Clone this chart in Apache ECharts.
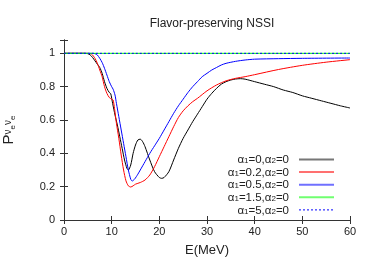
<!DOCTYPE html>
<html><head><meta charset="utf-8">
<script src="https://cdn.jsdelivr.net/npm/echarts@6/dist/echarts.min.js"></script>
<style>html,body{margin:0;padding:0;background:#fff}#c{width:374px;height:262px}</style>
</head><body><div id="c"></div>
<script>
const titleText = 'Flavor-preserving NSSI';
const xName = 'E(MeV)';
const xTicks = [0, 10, 20, 30, 40, 50, 60];
const yTicks = [0, 0.2, 0.4, 0.6, 0.8, 1];
const legendLabels = [['0','0'], ['0.2','0'], ['0.5','0'], ['1.5','0'], ['5','0']];
const seriesNames = ['a1=0', 'a1=0.2', 'a1=0.5', 'a1=1.5', 'a1=5'];

const blackX = [0,4,5,5.5,6,6.5,7,7.5,8,8.5,9,9.5,9.8,10.2,10.7,11.2,11.7,12.2,12.7,13.2,13.5,14,14.5,15,15.5,16,16.5,17,18,19,20,20.5,21,22,23,24,25,26,27,28,29,30,31,32,33,34,35,36,37,38,40,42,44,46,48,50,52,54,56,58,60];
const blackY = [1,1,0.998,0.99,0.975,0.955,0.935,0.915,0.88,0.83,0.79,0.765,0.758,0.70,0.63,0.57,0.50,0.43,0.36,0.31,0.30,0.33,0.40,0.45,0.48,0.485,0.47,0.44,0.36,0.29,0.255,0.25,0.255,0.29,0.36,0.43,0.49,0.54,0.59,0.635,0.68,0.725,0.76,0.79,0.815,0.83,0.84,0.846,0.848,0.845,0.83,0.815,0.80,0.78,0.765,0.745,0.73,0.715,0.70,0.685,0.672];

const redX = [0,5,5.8,6.5,7,7.5,8,8.5,9,9.5,10,10.3,10.6,11,11.5,12,12.5,13,13.5,14,14.5,15,16,17,18,19,20,21,22,23,24,25,26,27,28,30,32,34,36,38,40,45,50,55,60];
const redY = [1,1,0.995,0.97,0.94,0.90,0.86,0.80,0.76,0.735,0.725,0.72,0.67,0.58,0.49,0.39,0.30,0.235,0.205,0.198,0.205,0.215,0.225,0.24,0.27,0.32,0.38,0.44,0.50,0.56,0.615,0.655,0.685,0.71,0.73,0.775,0.81,0.835,0.85,0.86,0.872,0.903,0.928,0.947,0.962];

const blueX = [0,6,6.5,7,7.5,8,8.5,9,9.5,10,10.3,10.7,11,11.5,12,12.5,13,13.5,14,14.3,14.8,15.5,16,17,18,19,20,21,22,23,24,25,26,27,28,29,30,31,32,33,34,36,38,40,45,50,60];
const blueY = [1,1,0.998,0.99,0.97,0.945,0.91,0.87,0.83,0.80,0.785,0.75,0.70,0.62,0.54,0.46,0.38,0.30,0.245,0.234,0.245,0.275,0.30,0.35,0.40,0.445,0.49,0.54,0.59,0.64,0.685,0.725,0.765,0.80,0.83,0.86,0.88,0.90,0.915,0.93,0.94,0.952,0.96,0.965,0.968,0.97,0.972];

const flatX = [0, 60];
const flatY = [1, 1];

function pairs(xs, ys) { return xs.map((x, i) => [x, ys[i]]); }

const chart = echarts.init(document.getElementById('c'), null, {renderer: 'canvas'});
const FONT = 'Liberation Sans';
const txt = '#222';
const baseLine = {lineStyle: {color: '#333', width: 1}};

const richLegend = {
  a: {fontSize: 11.5, fontFamily: FONT, color: txt, verticalAlign: 'top', lineHeight: 11},
  s: {fontSize: 8, fontFamily: FONT, color: txt, verticalAlign: 'bottom', lineHeight: 8, padding: [5,0,0,0]},
  e: {fontSize: 11.5, fontFamily: FONT, color: txt, verticalAlign: 'top', lineHeight: 11, padding: [0,5,0,0]}
};

function mkSeries(name, data, color, type) {
  return {
    name: name, type: 'line', data: data, symbol: 'none', smooth: 0.25,
    lineStyle: {color: color, width: 1, type: type || 'solid'},
    itemStyle: {color: color},
    emphasis: {disabled: true}, animation: false
  };
}

const legendColors = ['#777777', '#ff7070', '#7070ff', '#70ff70', '#0000ff'];

chart.setOption({
  animation: false,
  title: {
    text: titleText, left: 207, top: 13, textAlign: 'center',
    textStyle: {fontSize: 12, fontWeight: 'normal', fontFamily: FONT, color: txt}
  },
  grid: {left: 64, right: 24, top: 40, bottom: 42, outerBoundsMode: 'none', containLabel: false},
  legend: {
    orient: 'vertical', align: 'right', right: 39, top: 152, padding: 0,
    itemWidth: 35, itemHeight: 8, itemGap: -1.4,
    data: seriesNames.map((n, i) => ({
      name: n,
      lineStyle: {color: legendColors[i], width: i === 4 ? 1 : 2, type: i === 4 ? [2, 2] : 'solid', opacity: 1}
    })),
    itemStyle: {opacity: 0},
    formatter: function (name) {
      const l = legendLabels[seriesNames.indexOf(name)];
      return '{a|α}{s|1}{a|=' + l[0] + ',α}{s|2}{e|=' + l[1] + '}';
    },
    textStyle: {rich: richLegend, fontFamily: FONT, fontSize: 11.5, color: txt},
    selectedMode: false
  },
  xAxis: [{
    type: 'value', min: 0, max: 60, interval: 10,
    name: xName, nameLocation: 'middle', nameGap: 24,
    nameTextStyle: {fontSize: 13, fontFamily: FONT, color: txt},
    axisLine: baseLine, splitLine: {show: false},
    axisTick: {inside: true, length: 4, lineStyle: {color: '#333'}},
    axisLabel: {fontSize: 11, fontFamily: FONT, color: txt, margin: 6}
  }, {
    type: 'value', min: 0, max: 60, interval: 10, position: 'top',
    axisLine: baseLine, splitLine: {show: false},
    axisTick: {inside: true, length: 4, lineStyle: {color: '#333'}},
    axisLabel: {show: false}
  }],
  yAxis: [{
    type: 'value', min: 0, max: 1.08, interval: 0.2,
    name: '{p|P}{s|ν}{ss|e}{s|ν}{ss|e}', nameLocation: 'middle', nameGap: 47, nameRotate: 90,
    nameTextStyle: {
      rich: {
        p: {fontSize: 15, fontFamily: FONT, color: txt, verticalAlign: 'top', lineHeight: 16},
        s: {fontSize: 10, fontFamily: FONT, color: txt, verticalAlign: 'bottom', lineHeight: 10, padding: [0,0,4,0]},
        ss: {fontSize: 8, fontFamily: FONT, color: txt, verticalAlign: 'bottom', lineHeight: 8}
      }
    },
    axisLine: baseLine, splitLine: {show: false},
    axisTick: {inside: true, length: 4, lineStyle: {color: '#333'}},
    axisLabel: {fontSize: 11, fontFamily: FONT, color: txt, margin: 9,
      formatter: function (v) { return v > 1.01 ? '' : String(+v.toFixed(1)); }}
  }, {
    type: 'value', min: 0, max: 1.08, interval: 0.2, position: 'right',
    axisLine: baseLine, splitLine: {show: false},
    axisTick: {inside: true, length: 4, lineStyle: {color: '#333'}},
    axisLabel: {show: false}
  }],
  series: [
    mkSeries(seriesNames[0], pairs(blackX, blackY), '#000000'),
    mkSeries(seriesNames[1], pairs(redX, redY), '#ff0000'),
    mkSeries(seriesNames[2], pairs(blueX, blueY), '#0000ff'),
    mkSeries(seriesNames[3], pairs(flatX, flatY), '#00ff00'),
    mkSeries(seriesNames[4], pairs(flatX, flatY), '#0000ff', [2, 2])
  ]
});
</script></body></html>
